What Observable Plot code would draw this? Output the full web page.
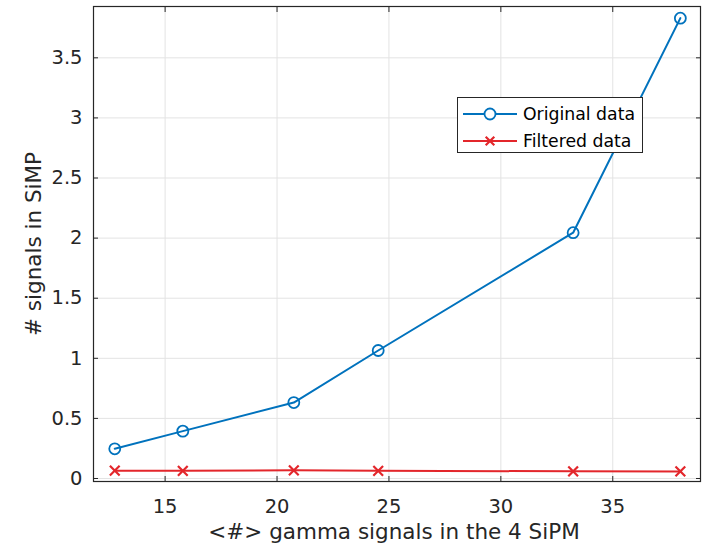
<!DOCTYPE html>
<html><head><meta charset="utf-8">
<script src="https://cdn.jsdelivr.net/npm/d3@7"></script>
<script src="https://cdn.jsdelivr.net/npm/@observablehq/plot@0.6"></script>
<style>
body{margin:0;background:#fff;}
#wrap{position:relative;width:704px;height:552px;}
#legend{position:absolute;left:457px;top:97px;width:186px;height:56px;border:1px solid #262626;background:#fff;box-sizing:border-box;font-family:"DejaVu Sans";font-size:17.3px;color:#000;}
.row{position:absolute;left:4px;height:22px;display:flex;align-items:center;}
.row svg{display:block;margin-right:5px;}
</style></head><body><div id="wrap"></div>
<script>
const gammaSignals = [12.75, 15.79, 20.75, 24.52, 33.23, 38.02];
const originalData = [0.247, 0.394, 0.632, 1.065, 2.045, 3.83];
const filteredData = [0.065, 0.064, 0.068, 0.064, 0.060, 0.059];
const xTicks = [15, 20, 25, 30, 35];
const yTicks = [0, 0.5, 1, 1.5, 2, 2.5, 3, 3.5];
const yTickLabels = ["0", "0.5", "1", "1.5", "2", "2.5", "3", "3.5"];
const seriesNames = ["Original data", "Filtered data"];
const seriesColors = ["#0072BD", "#E3262B"];
const seriesSymbols = ["circle", "times"];
const xLabel = "<#> gamma signals in the 4 SiPM";
const yLabel = "# signals in SiMP";

const orig = gammaSignals.map((x, i) => ({x, y: originalData[i]}));
const filt = gammaSignals.map((x, i) => ({x, y: filteredData[i]}));
const ink = "#262626";

const plot = Plot.plot({
  width: 704, height: 552,
  marginLeft: 93, marginRight: 4, marginTop: 6, marginBottom: 71,
  style: {fontFamily: "DejaVu Sans", fontSize: "19.5px", color: ink, background: "#fff"},
  x: {domain: [11.8, 38.92]},
  y: {domain: [-0.025, 3.927]},
  marks: [
    Plot.gridX(xTicks, {stroke: "#e3e3e3", strokeOpacity: 1}),
    Plot.gridY(yTicks, {stroke: "#e3e3e3", strokeOpacity: 1}),
    Plot.axisX(xTicks, {anchor: "bottom", tickSize: -5, tickPadding: 23, label: null, stroke: ink}),
    Plot.axisX(xTicks, {anchor: "top", tickSize: -5, tickFormat: () => "", label: null, stroke: ink}),
    Plot.axisY(yTicks, {anchor: "left", tickSize: -5, tickPadding: 16, label: null, stroke: ink,
      tickFormat: (d) => yTickLabels[yTicks.indexOf(d)]}),
    Plot.axisY(yTicks, {anchor: "right", tickSize: -5, tickFormat: () => "", label: null, stroke: ink}),
    Plot.frame({stroke: ink, strokeWidth: 1.2}),
    Plot.line(filt, {x: "x", y: "y", stroke: seriesColors[1], strokeWidth: 2}),
    Plot.dot(filt, {x: "x", y: "y", symbol: seriesSymbols[1], r: 4.5, stroke: seriesColors[1], strokeWidth: 2.2}),
    Plot.line(orig, {x: "x", y: "y", stroke: seriesColors[0], strokeWidth: 2}),
    Plot.dot(orig, {x: "x", y: "y", symbol: seriesSymbols[0], r: 5.5, fill: "none", stroke: seriesColors[0], strokeWidth: 1.8}),
    Plot.text([xLabel], {frameAnchor: "bottom", dy: 51, lineAnchor: "middle", fontSize: 21.5, fill: ink, dx: -3}),
    Plot.text([yLabel], {frameAnchor: "left", dx: -59, rotate: -90, textAnchor: "middle", lineAnchor: "middle", fontSize: 21.5, fill: ink})
  ]
});
const wrap = document.getElementById("wrap");
wrap.appendChild(plot);

const legend = document.createElement("div");
legend.id = "legend";
seriesNames.forEach((name, i) => {
  const row = document.createElement("div");
  row.className = "row";
  row.style.top = (i === 0 ? 5 : 32) + "px";
  const s = d3.create("svg").attr("width", 56).attr("height", 22);
  s.append("line").attr("x1", 1).attr("x2", 55).attr("y1", 11).attr("y2", 11)
    .attr("stroke", seriesColors[i]).attr("stroke-width", 2);
  s.append("path").attr("transform", "translate(28,11)")
    .attr("d", d3.symbol(i === 0 ? d3.symbolCircle : d3.symbolTimes, i === 0 ? 95 : 50)())
    .attr("fill", i === 0 ? "#fff" : "none").attr("stroke", seriesColors[i]).attr("stroke-width", i === 0 ? 1.8 : 2.2);
  row.appendChild(s.node());
  const t = document.createElement("span");
  t.textContent = name;
  row.appendChild(t);
  legend.appendChild(row);
});
wrap.appendChild(legend);
</script>
</body></html>
